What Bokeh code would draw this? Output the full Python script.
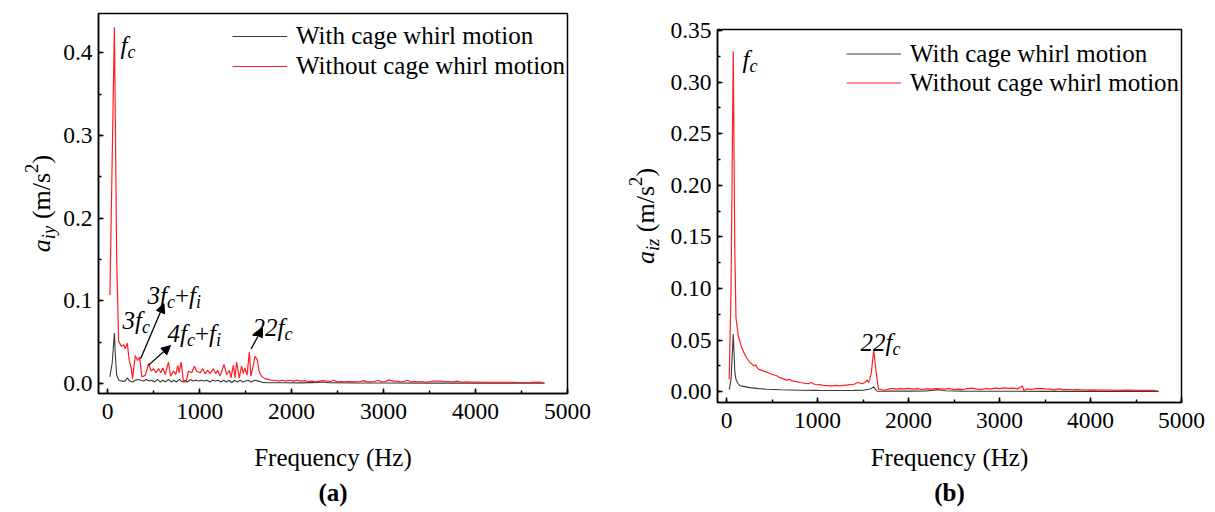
import math
from bokeh.plotting import figure
from bokeh.models import (Range1d, SingleIntervalTicker, NumeralTickFormatter, Legend,
                          LegendItem, Label, Arrow, NormalHead, Title)
from bokeh.layouts import row
from bokeh.embed import file_html
from bokeh.resources import INLINE

SERIF = "Liberation Serif"
RED = "#ff1f1f"
DARK = "#3a3a3a"

# ---------------- data: panel (a) a_iy ----------------
freq_a_without = [24, 73, 98, 119, 150, 174, 191, 213, 234, 256, 270, 300, 325, 347, 372, 408,
                  445, 474, 499, 524, 553, 578, 600, 625, 661, 683, 716, 741, 762, 777, 799, 824,
                  853, 878, 914, 943, 969, 1005, 1034, 1059, 1088, 1113, 1149, 1175, 1196, 1222,
                  1265, 1294, 1323, 1341, 1366, 1384, 1402, 1431, 1456, 1475, 1492, 1515, 1540,
                  1558, 1583, 1601, 1626, 1648, 1673, 1709, 1745, 1780, 1820, 1860, 1900, 1940,
                  1980, 2020, 2060, 2100, 2140, 2180, 2220, 2260, 2300, 2340, 2380, 2420, 2460,
                  2500, 2540, 2580, 2620, 2660, 2700, 2740, 2780, 2820, 2860, 2900, 2940, 2980,
                  3020, 3060, 3100, 3140, 3180, 3220, 3260, 3300, 3340, 3380, 3420, 3460, 3500,
                  3540, 3580, 3620, 3660, 3700, 3760, 3800, 3850, 3900, 3950, 4000, 4100, 4200,
                  4300, 4400, 4500, 4600, 4700, 4720, 4750]
amp_a_without = [0.107, 0.431, 0.150, 0.051, 0.045, 0.047, 0.042, 0.049, 0.028, 0.019, 0.006,
                 0.034, 0.028, 0.032, 0.008, 0.010, 0.024, 0.015, 0.018, 0.013, 0.018, 0.013,
                 0.019, 0.011, 0.026, 0.009, 0.015, 0.011, 0.022, 0.013, 0.026, 0.002, 0.002,
                 0.015, 0.013, 0.021, 0.015, 0.013, 0.018, 0.012, 0.016, 0.012, 0.018, 0.012,
                 0.016, 0.009, 0.023, 0.011, 0.016, 0.007, 0.022, 0.007, 0.026, 0.007, 0.021,
                 0.012, 0.019, 0.010, 0.038, 0.009, 0.022, 0.033, 0.029, 0.014, 0.009, 0.006,
                 0.005, 0.004, 0.004, 0.003, 0.004, 0.003, 0.004, 0.003, 0.004, 0.003, 0.0035,
                 0.0025, 0.003, 0.002, 0.003, 0.0035, 0.003, 0.0025, 0.004, 0.002, 0.0025,
                 0.002, 0.0025, 0.002, 0.002, 0.0022, 0.0035, 0.002, 0.002, 0.0025, 0.004,
                 0.002, 0.0025, 0.0045, 0.003, 0.003, 0.002, 0.0025, 0.004, 0.002, 0.0025,
                 0.002, 0.0025, 0.0015, 0.0025, 0.003, 0.003, 0.003, 0.0025, 0.0025, 0.002,
                 0.003, 0.0015, 0.002, 0.0018, 0.0018, 0.0015, 0.0016, 0.0014, 0.0015, 0.0013,
                 0.0014, 0.0018, 0.001, 0.0012]

freq_a_with = [24, 49, 73, 85, 98, 122, 150, 190, 213, 240, 270, 300, 330, 360, 390, 420, 450,
               480, 510, 540, 570, 600, 630, 660, 690, 720, 750, 780, 810, 840, 870, 900, 930,
               960, 990, 1020, 1050, 1080, 1110, 1140, 1170, 1200, 1230, 1260, 1290, 1320, 1350,
               1380, 1410, 1440, 1470, 1500, 1530, 1560, 1600, 1640, 1680, 1750, 1900, 2100,
               2300, 2340, 2400, 2700, 3000, 3500, 4000, 4500, 4750]
amp_a_with = [0.008, 0.025, 0.061, 0.030, 0.010, 0.004, 0.003, 0.003, 0.007, 0.003, 0.002,
              0.004, 0.005, 0.004, 0.003, 0.005, 0.003, 0.004, 0.002, 0.005, 0.002, 0.004,
              0.002, 0.005, 0.002, 0.004, 0.002, 0.005, 0.002, 0.004, 0.002, 0.005, 0.003,
              0.004, 0.003, 0.004, 0.003, 0.004, 0.002, 0.004, 0.003, 0.004, 0.002, 0.004,
              0.002, 0.004, 0.001, 0.004, 0.002, 0.004, 0.002, 0.003, 0.004, 0.002, 0.004,
              0.003, 0.0015, 0.001, 0.001, 0.0008, 0.0015, 0.002, 0.001, 0.0008, 0.0007,
              0.0006, 0.0005, 0.0005, 0.0004]

# ---------------- data: panel (b) a_iz ----------------
freq_b_without = [29, 49, 73, 90, 103, 128, 165, 195, 220, 250, 276, 300, 320, 349, 380, 410,
                  441, 470, 500, 530, 551, 580, 610, 640, 661, 690, 720, 750, 780, 808, 840,
                  870, 900, 930, 960, 992, 1020, 1050, 1080, 1110, 1140, 1175, 1210, 1240, 1270,
                  1300, 1323, 1350, 1380, 1410, 1433, 1460, 1490, 1520, 1544, 1560, 1573, 1590,
                  1605, 1617, 1630, 1643, 1660, 1672, 1700, 1730, 1764, 1800, 1837, 1870, 1900,
                  1950, 2000, 2050, 2100, 2150, 2200, 2250, 2300, 2350, 2400, 2450, 2500, 2550,
                  2600, 2650, 2700, 2750, 2800, 2850, 2900, 2950, 3000, 3050, 3100, 3150, 3200,
                  3250, 3270, 3300, 3350, 3400, 3450, 3500, 3550, 3600, 3650, 3700, 3750, 3800,
                  3850, 3900, 3950, 4000, 4100, 4200, 4300, 4400, 4500, 4600, 4700, 4750]
amp_b_without = [0.012, 0.100, 0.330, 0.140, 0.072, 0.054, 0.043, 0.037, 0.033, 0.029, 0.027,
                 0.025, 0.026, 0.022, 0.021, 0.020, 0.019, 0.018, 0.017, 0.016, 0.0155, 0.014,
                 0.013, 0.012, 0.0113, 0.012, 0.0105, 0.010, 0.0095, 0.009, 0.0085, 0.008,
                 0.0078, 0.009, 0.0075, 0.0068, 0.007, 0.0065, 0.0062, 0.006, 0.0058, 0.0058,
                 0.0062, 0.0057, 0.006, 0.0065, 0.0065, 0.007, 0.0068, 0.0075, 0.009, 0.0085,
                 0.0078, 0.009, 0.0113, 0.009, 0.012, 0.018, 0.030, 0.040, 0.030, 0.020, 0.008,
                 0.0026, 0.002, 0.0015, 0.002, 0.003, 0.003, 0.0025, 0.003, 0.0028, 0.0032,
                 0.0025, 0.003, 0.0022, 0.0028, 0.0025, 0.003, 0.0028, 0.0025, 0.0032, 0.002,
                 0.0025, 0.0022, 0.003, 0.0035, 0.0025, 0.002, 0.0032, 0.0025, 0.0035, 0.003,
                 0.0038, 0.0032, 0.0035, 0.0028, 0.0055, 0.001, 0.0028, 0.0022, 0.003, 0.0032,
                 0.0028, 0.0025, 0.0018, 0.0028, 0.002, 0.0022, 0.0018, 0.002, 0.0018, 0.0015,
                 0.0018, 0.0015, 0.0016, 0.0014, 0.0015, 0.0013, 0.0014, 0.0013, 0.0005]

freq_b_with = [29, 49, 73, 90, 103, 125, 147, 200, 257, 350, 441, 600, 808, 1000, 1200, 1400,
               1500, 1560, 1590, 1617, 1640, 1654, 1700, 1800, 2000, 2200, 2300, 2340, 2400,
               2600, 3000, 3500, 4000, 4500, 4750]
amp_b_with = [0.002, 0.012, 0.056, 0.020, 0.012, 0.008, 0.0058, 0.005, 0.004, 0.003, 0.0025,
              0.002, 0.0015, 0.0013, 0.0012, 0.0013, 0.0015, 0.0025, 0.003, 0.0048, 0.002,
              0.0005, 0.0005, 0.0006, 0.0006, 0.0008, 0.0018, 0.002, 0.001, 0.0006, 0.0005,
              0.0004, 0.0004, 0.0003, 0.0003]

series_labels = ["With cage whirl motion", "Without cage whirl motion"]
x_tick_step = 1000
y_tick_step_a = 0.1
y_tick_step_b = 0.05

# arrows of panel (a): (x_start, y_start, x_end, y_end) in data units
arrows_a = [(358, 0.030, 612, 0.0965), (442, 0.022, 683, 0.046), (1560, 0.042, 1684, 0.0675)]

# ---------------- helpers ----------------
W_IT = {'f': 278, 'c': 444, 'i': 278, '+': 675, 'a': 500, 'y': 444, 'z': 389}
W_UP = {' ': 250, '(': 333, ')': 333, 'm': 778, '/': 278, 's': 389, '+': 564}
SUB = 0.72


def text_width(s, size, italic):
    table = W_IT if italic else W_UP
    return sum(table.get(ch, 500) for ch in s) / 1000.0 * size


def add_rich(p, x, y, pieces, size, angle=0.0):
    pos = 0.0
    for txt, role, italic in pieces:
        if role == "gap":
            pos += txt * size
            continue
        fs = size * SUB if role in ('sub', 'sup') else size
        shift = {'sub': -0.26 * size, 'sup': 0.40 * size}.get(role, 0.0)
        if angle == 0:
            lx, ly = x + pos, y + shift
        else:
            lx, ly = x - shift, y + pos
        p.add_layout(Label(x=lx, y=ly, x_units='screen', y_units='screen', text=txt,
                           angle=angle, text_font=SERIF, text_font_size=f"{fs:.1f}px",
                           text_font_style='italic' if italic else 'normal',
                           text_align='left', text_baseline='alphabetic', text_color='black'))
        pos += text_width(txt, fs, italic)


def rich_length(pieces, size):
    tot = 0.0
    for t, r, it in pieces:
        if r == "gap":
            tot += t * size
        else:
            tot += text_width(t, size * (SUB if r != "n" else 1), it)
    return tot


def label_strip(width, height):
    s = figure(width=width, height=height, x_range=Range1d(0, 1), y_range=Range1d(0, 1),
               x_axis_type=None, y_axis_type=None, output_backend="svg",
               toolbar_location=None, title=None, min_border=0, frame_align=False)
    s.outline_line_color = None
    s.background_fill_color = "white"
    s.border_fill_color = "white"
    return s


def make_panel(width, height, borders, xr, yr, ystep, yfmt, data, legend_loc, label_h, tag,
               label_standoff):
    bl, br, bt, bb = borders
    p = figure(width=width, height=height, x_range=Range1d(*xr), y_range=Range1d(*yr),
               output_backend="svg", toolbar_location=None, title=None, frame_align=False,
               min_border_left=bl, min_border_right=br, min_border_top=bt,
               min_border_bottom=bb)
    p.background_fill_color = "white"
    p.border_fill_color = "white"
    p.outline_line_color = "black"
    p.outline_line_width = 1.5
    p.outline_line_alpha = 1.0
    p.xgrid.visible = False
    p.ygrid.visible = False
    p.xaxis.ticker = SingleIntervalTicker(interval=x_tick_step, num_minor_ticks=2)
    p.yaxis.ticker = SingleIntervalTicker(interval=ystep, num_minor_ticks=2)
    p.xaxis.formatter = NumeralTickFormatter(format="0")
    p.yaxis.formatter = NumeralTickFormatter(format=yfmt)
    for ax in (p.xaxis, p.yaxis):
        ax.axis_line_width = 1.5
        ax.axis_line_color = "black"
        ax.major_tick_in = 5
        ax.major_tick_out = 0
        ax.minor_tick_in = 3
        ax.minor_tick_out = 0
        ax.major_tick_line_width = 1.5
        ax.minor_tick_line_width = 1.5
        ax.major_tick_line_color = "black"
        ax.minor_tick_line_color = "black"
        ax.major_label_text_font = SERIF
        ax.major_label_text_font_size = "23.5px"
        ax.major_label_text_color = "black"
    p.xaxis.major_label_standoff = 10
    p.yaxis.major_label_standoff = 6
    p.xaxis.axis_label = "Frequency (Hz)"
    p.xaxis.axis_label_text_font = SERIF
    p.xaxis.axis_label_text_font_size = "25px"
    p.xaxis.axis_label_text_font_style = "normal"
    p.xaxis.axis_label_text_color = "black"
    p.xaxis.axis_label_standoff = label_standoff

    (fw, aw), (fwo, awo) = data
    r1 = p.line(fw, aw, line_color=DARK, line_width=1.1)
    r2 = p.line(fwo, awo, line_color=RED, line_width=1.2)
    legend = Legend(items=[LegendItem(label=series_labels[0], renderers=[r1]),
                           LegendItem(label=series_labels[1], renderers=[r2])],
                    location=legend_loc, orientation="vertical", padding=0, margin=0,
                    spacing=0, glyph_width=55, glyph_height=label_h, label_height=label_h,
                    label_standoff=9, label_text_font=SERIF, label_text_font_size="25px",
                    label_text_color="black", border_line_color=None,
                    background_fill_alpha=0)
    p.add_layout(legend)
    p.add_layout(Title(text=tag, align="center", text_font=SERIF, text_font_size="25px",
                       text_font_style="bold", text_color="black", standoff=6), "below")
    return p


FS = 25
YL = 26
H = 512

# ---------------- panel (a) ----------------
strip_a = label_strip(60, H)
pa = make_panel(560, H, (36, 53, 13, 119), (-100, 5000), (-0.012, 0.4475), y_tick_step_a,
                "0.0", ((freq_a_with, amp_a_with), (freq_a_without, amp_a_without)),
                (134, 312), 30, "(a)", 22)
add_rich(pa, 22, 348, [("f", "n", True), ("c", "sub", True)], FS)
add_rich(pa, 49, 98, [("3", "n", True), ("f", "n", True), ("c", "sub", True), ("+", "n", False),
                      ("f", "n", True), ("i", "sub", True)], FS)
add_rich(pa, 24, 73, [("3", "n", True), ("f", "n", True), ("c", "sub", True)], FS)
add_rich(pa, 69, 60, [("4", "n", True), ("f", "n", True), ("c", "sub", True), ("+", "n", False),
                      ("f", "n", True), ("i", "sub", True)], FS)
add_rich(pa, 154, 66, [("22", "n", True), ("f", "n", True), ("c", "sub", True)], FS)
for xs, ys, xe, ye in arrows_a:
    pa.add_layout(Arrow(end=NormalHead(size=9, fill_color="black", line_color="black",
                                       line_width=1),
                        x_start=xs, y_start=ys, x_end=xe, y_end=ye,
                        line_color="black", line_width=1.3))
pieces_a = [("a", "n", True), ("iy", "sub", True), (0.25, "gap", False), ("(m/s", "n", False),
            ("2", "sup", False), (")", "n", False)]
add_rich(strip_a, 41, (H - 203) - rich_length(pieces_a, YL) / 2, pieces_a, YL,
         angle=math.pi / 2)

# ---------------- panel (b) ----------------
strip_b = label_strip(45, H)
pb = make_panel(550, H, (52, 34, 29, 110), (-100, 5000), (-0.0104, 0.351), y_tick_step_b,
                "0.00", ((freq_b_with, amp_b_with), (freq_b_without, amp_b_without)),
                (129, 305), 29, "(b)", 13)
add_rich(pb, 25, 343, [("f", "n", True), ("c", "sub", True)], FS)
add_rich(pb, 143, 60, [("22", "n", True), ("f", "n", True), ("c", "sub", True)], FS)
pieces_b = [("a", "n", True), ("iz", "sub", True), (0.25, "gap", False), ("(m/s", "n", False),
            ("2", "sup", False), (")", "n", False)]
add_rich(strip_b, 25, (H - 215.5) - rich_length(pieces_b, YL) / 2, pieces_b, YL,
         angle=math.pi / 2)

layout = row(strip_a, pa, strip_b, pb)
open("out.html", "w").write(file_html(layout, INLINE))
